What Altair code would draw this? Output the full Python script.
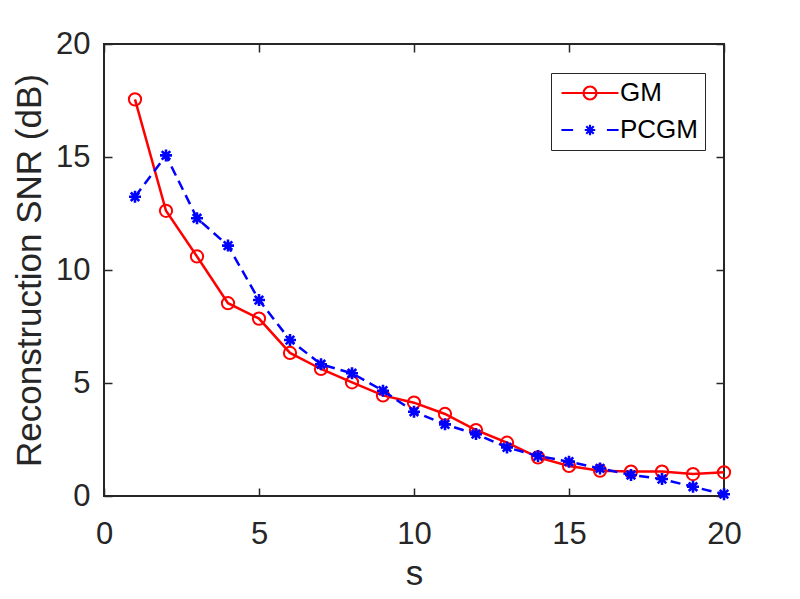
import altair as alt
import pandas as pd

# ---- data ----
s_vals = list(range(1, 21))
gm_vals = [17.55, 12.62, 10.60, 8.53, 7.85, 6.33, 5.62, 5.03, 4.45, 4.13,
           3.63, 2.92, 2.36, 1.71, 1.33, 1.12, 1.08, 1.08, 0.97, 1.05]
pcgm_vals = [13.24, 15.07, 12.29, 11.08, 8.67, 6.90, 5.83, 5.43, 4.66, 3.73,
             3.17, 2.74, 2.15, 1.77, 1.52, 1.22, 0.93, 0.75, 0.41, 0.08]
series_names = ["GM", "PCGM"]
x_ticks = [0, 5, 10, 15, 20]
y_ticks = [0, 5, 10, 15, 20]

df = pd.DataFrame({"s": s_vals, "GM": gm_vals, "PCGM": pcgm_vals})
long_df = df.melt("s", var_name="series", value_name="snr")

FONT = "Liberation Sans"
TXT = "#262626"
RED = "#ff0000"
BLUE = "#0000ff"

ASTER = "M-1,0L1,0M0,-1L0,1M-0.71,-0.71L0.71,0.71M-0.71,0.71L0.71,-0.71"
LEG_GM = "M-4.38,0L4.38,0M-1,0A1,1,0,1,1,1,0A1,1,0,1,1,-1,0"
LEG_PC = ("M-4.4,0L-2.6,0M2.6,0L4.4,0"
          "M-0.8,0L0.8,0M0,-0.8L0,0.8M-0.57,-0.57L0.57,0.57M-0.57,0.57L0.57,-0.57")

xs = alt.Scale(domain=[0, 20], nice=False, zero=False)
ys = alt.Scale(domain=[0, 20], nice=False, zero=False)

common_tick = dict(offset=-8, tickSize=8, tickWidth=1.5, tickColor=TXT,
                   domain=False, grid=False)

bottom_axis = alt.Axis(orient="bottom", values=x_ticks, **common_tick,
                       labelFont=FONT, labelFontSize=31, labelColor=TXT,
                       labelPadding=47, labelBaseline="alphabetic", labelFlush=False,
                       title="s", titleFont=FONT, titleFontSize=35,
                       titleFontWeight="normal", titleColor=TXT,
                       titleX=310, titleY=96, titleAlign="center",
                       titleBaseline="alphabetic")
left_axis = alt.Axis(orient="left", values=y_ticks, **common_tick,
                     labelFont=FONT, labelFontSize=31, labelColor=TXT,
                     labelPadding=14, labelAlign="right", labelBaseline="middle",
                     labelFlush=False,
                     title="Reconstruction SNR (dB)", titleFont=FONT, titleFontSize=35,
                     titleFontWeight="normal", titleColor=TXT,
                     titleAngle=270, titleX=-72, titleY=226, titleAlign="center",
                     titleBaseline="alphabetic")
top_axis = alt.Axis(orient="top", values=x_ticks, **common_tick,
                    labels=False, title=None)
right_axis = alt.Axis(orient="right", values=y_ticks, **common_tick,
                      labels=False, title=None)

gm_line = alt.Chart(df).mark_line(color=RED, strokeWidth=2.5).encode(
    x=alt.X("s:Q", scale=xs, axis=bottom_axis),
    y=alt.Y("GM:Q", scale=ys, axis=left_axis),
)
gm_pts = alt.Chart(df).mark_point(shape="circle", filled=False, color=RED,
                                  size=150, strokeWidth=2, opacity=1).encode(
    x=alt.X("s:Q", scale=xs, axis=None),
    y=alt.Y("GM:Q", scale=ys, axis=None),
)
pc_line = alt.Chart(df).mark_line(color=BLUE, strokeWidth=2.5,
                                  strokeDash=[10, 6]).encode(
    x=alt.X("s:Q", scale=xs, axis=top_axis),
    y=alt.Y("PCGM:Q", scale=ys, axis=right_axis),
)
pc_pts = alt.Chart(df).mark_point(shape=ASTER, filled=False, color=BLUE,
                                  size=144, strokeWidth=2.6, opacity=1).encode(
    x=alt.X("s:Q", scale=xs, axis=None),
    y=alt.Y("PCGM:Q", scale=ys, axis=None),
)

legend_props = dict(orient="none", legendX=447, legendY=29, padding=7,
                    strokeColor=TXT, fillColor="white",
                    symbolSize=169, symbolStrokeWidth=2.2, symbolOffset=19,
                    labelOffset=17, labelFont=FONT, labelFontSize=26,
                    labelColor="#000000", rowPadding=11, title=None)

legend_layer = alt.Chart(long_df).transform_filter("false").mark_point(
    filled=False, strokeWidth=2, opacity=1).encode(
    x=alt.X("s:Q", scale=xs, axis=None),
    y=alt.Y("snr:Q", scale=ys, axis=None),
    color=alt.Color("series:N", scale=alt.Scale(domain=series_names, range=[RED, BLUE]),
                    legend=alt.Legend(**legend_props)),
    shape=alt.Shape("series:N", scale=alt.Scale(domain=series_names, range=[LEG_GM, LEG_PC]),
                    legend=alt.Legend(**legend_props)),
)

chart = alt.layer(gm_line, gm_pts, pc_line, pc_pts, legend_layer).resolve_axis(
    x="independent", y="independent"
).properties(
    width=620, height=452,
    autosize=alt.AutoSizeParams(type="none"),
    padding={"left": 96, "top": 36, "right": 68, "bottom": 95},
    background="white",
).configure_view(
    stroke=TXT, strokeWidth=2
)

chart.save("out.html", embed_options={"renderer": "svg", "actions": False})
